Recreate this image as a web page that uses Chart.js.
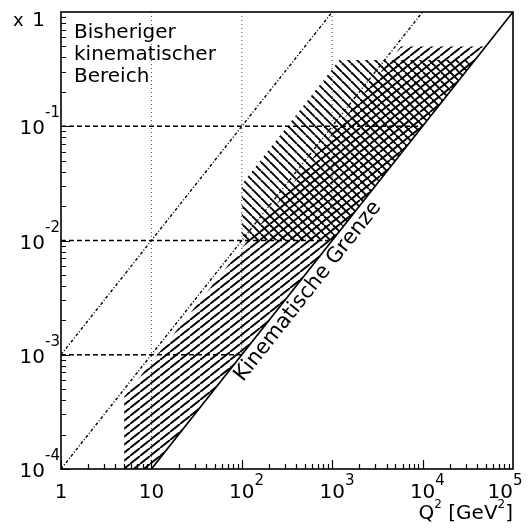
<!DOCTYPE html>
<html>
<head>
<meta charset="utf-8">
<script src="https://cdn.jsdelivr.net/npm/chart.js@4.4.1/dist/chart.umd.min.js"></script>
<style>
  html, body { margin: 0; padding: 0; background: #fff; }
  #chart { display: block; }
</style>
</head>
<body>
<canvas id="chart" width="532" height="528"></canvas>
<script>
// kinematische Ebene: Q2 (x-Achse) gegen Bjorken-x (y-Achse)
const grenzeQ2 = [10, 1e5];
const grenzeX  = [1e-4, 1];
const linie1Q2 = [1, 1e3];
const linie1X  = [1e-3, 1];
const linie2Q2 = [1, 1e4];
const linie2X  = [1e-4, 1];

// Hilfslinien: waagerecht bei x = 0.1 / 0.01 / 0.001, senkrecht bei Q2 = 10 / 100 / 1000
const hLinienX    = [0.1, 0.01, 0.001];
const hLinienBisQ2 = [1e4, 1e3, 1e2];
const vLinienQ2   = [10, 100, 1000];
const vLinienBisX = [1e-4, 1e-3, 1e-2];

// schraffierte Bereiche
const bereichAQ2 = [5, 5, 5750, 5e4, 10, 5];
const bereichAX  = [1e-4, 4.3e-4, 0.5, 0.5, 1e-4, 1e-4];
const bereichBQ2 = [100, 100, 1200, 3.8e4, 1000, 100];
const bereichBX  = [0.01, 0.031, 0.38, 0.38, 0.01, 0.01];

// Achsenbeschriftung
const q2TickWerte = [1, 10, 100, 1e3, 1e4, 1e5];
const q2TickBasis = ['1', '10', '10', '10', '10', '10'];
const q2TickExp   = ['', '', '2', '3', '4', '5'];
const xTickWerte  = [1e-4, 1e-3, 1e-2, 1e-1, 1];
const xTickBasis  = ['10', '10', '10', '10', '1'];
const xTickExp    = ['-4', '-3', '-2', '-1', ''];

const canvas = document.getElementById('chart');
const mainCtx = canvas.getContext('2d');

function punkte(q2, x) {
  return q2.map((v, i) => ({ x: v, y: x[i] }));
}

function schraffur(w, h, richtung) {
  const c = document.createElement('canvas');
  c.width = w; c.height = h;
  const g = c.getContext('2d');
  g.strokeStyle = '#000';
  g.lineWidth = 1.9;
  for (const dx of [-w, 0, w]) {
    g.beginPath();
    if (richtung === '/') { g.moveTo(dx, h); g.lineTo(dx + w, 0); }
    else { g.moveTo(dx, 0); g.lineTo(dx + w, h); }
    g.stroke();
  }
  return mainCtx.createPattern(c, 'repeat');
}

const linie = (data, extra) => Object.assign({
  data, showLine: true, pointRadius: 0, borderColor: '#000',
  borderWidth: 1.3, fill: false, tension: 0, order: 1
}, extra);

const datasets = [
  linie(punkte(grenzeQ2, grenzeX), { borderWidth: 1.7 }),
  linie(punkte(linie1Q2, linie1X), { borderWidth: 1.4, borderDash: [3, 2, 1, 2] }),
  linie(punkte(linie2Q2, linie2X), { borderWidth: 1.4, borderDash: [3, 2, 1, 2] })
];
hLinienX.forEach((xv, i) => {
  datasets.push(linie([{ x: 1, y: xv }, { x: hLinienBisQ2[i], y: xv }], { borderWidth: 1.4, borderDash: [5, 3] }));
});
vLinienQ2.forEach((q, i) => {
  datasets.push(linie([{ x: q, y: 1 }, { x: q, y: vLinienBisX[i] }], { borderWidth: 1, borderColor: '#444', borderDash: [1, 3] }));
});
datasets.push({
  data: punkte(bereichAQ2, bereichAX), showLine: true, pointRadius: 0, borderWidth: 0,
  borderColor: 'rgba(0,0,0,0)', backgroundColor: schraffur(10, 8, '/'), fill: 'shape', tension: 0, order: 10
});
datasets.push({
  data: punkte(bereichBQ2, bereichBX), showLine: true, pointRadius: 0, borderWidth: 0,
  borderColor: 'rgba(0,0,0,0)', backgroundColor: schraffur(9, 9, '\\'), fill: 'shape', tension: 0, order: 9
});

const rahmen = {
  id: 'rahmen',
  afterDraw(chart) {
    const { ctx, chartArea: a, scales: { x, y } } = chart;
    ctx.save();
    ctx.strokeStyle = '#000';
    ctx.lineWidth = 1.6;
    ctx.strokeRect(a.left, a.top, a.right - a.left, a.bottom - a.top);

    // Teilstriche nach innen
    ctx.lineWidth = 1.2;
    ctx.beginPath();
    for (let e = 0; e < 5; e++) {
      for (let m = 1; m < 10; m++) {
        const px = Math.round(x.getPixelForValue(m * Math.pow(10, e))) + 0.5;
        const len = m === 1 ? 9 : 5;
        ctx.moveTo(px, a.bottom); ctx.lineTo(px, a.bottom - len);
      }
    }
    for (let e = -4; e < 0; e++) {
      for (let m = 1; m < 10; m++) {
        const py = Math.round(y.getPixelForValue(m * Math.pow(10, e))) + 0.5;
        const len = m === 1 ? 9 : 5;
        ctx.moveTo(a.left, py); ctx.lineTo(a.left + len, py);
      }
    }
    ctx.stroke();

    ctx.fillStyle = '#000';
    const basisFont = '20px "DejaVu Sans"';
    const expFont = '15px "DejaVu Sans"';

    // Q2-Achse
    ctx.textAlign = 'left';
    ctx.textBaseline = 'alphabetic';
    q2TickWerte.forEach((v, i) => {
      const px = x.getPixelForValue(v);
      ctx.font = basisFont;
      const w = ctx.measureText(q2TickBasis[i]).width;
      ctx.font = expFont;
      const we = q2TickExp[i] ? ctx.measureText(q2TickExp[i]).width : 0;
      let links = px - w / 2;
      if (links + w + we > chart.width - 1) links = px - w;
      ctx.font = basisFont;
      ctx.fillText(q2TickBasis[i], links, a.bottom + 29);
      if (q2TickExp[i]) {
        ctx.font = expFont;
        ctx.fillText(q2TickExp[i], links + w, a.bottom + 16);
      }
    });

    // x-Achse
    xTickWerte.forEach((v, i) => {
      const py = y.getPixelForValue(v);
      if (xTickExp[i]) {
        ctx.font = expFont;
        const we = ctx.measureText(xTickExp[i]).width;
        const supLinks = a.left - 1 - we;
        ctx.fillText(xTickExp[i], supLinks, py - 9);
        ctx.font = basisFont;
        const w = ctx.measureText(xTickBasis[i]).width;
        ctx.fillText(xTickBasis[i], supLinks - w, py + 8);
      } else {
        ctx.font = basisFont;
        const w = ctx.measureText(xTickBasis[i]).width;
        ctx.fillText(xTickBasis[i], a.left - 16 - w, py + 14);
      }
    });
    ctx.font = '18px "DejaVu Sans"';
    ctx.fillText('x', 13, 26);

    // Achsentitel Q2 [GeV2]
    const teile = [['Q', basisFont, 0], ['2', '12px "DejaVu Sans"', -11], [' [GeV', basisFont, 0],
                   ['2', '12px "DejaVu Sans"', -11], [']', basisFont, 0]];
    let gesamt = 0;
    teile.forEach(t => { ctx.font = t[1]; gesamt += ctx.measureText(t[0]).width; });
    let tx = a.right - gesamt;
    teile.forEach(t => {
      ctx.font = t[1];
      ctx.fillText(t[0], tx, 519 + t[2]);
      tx += ctx.measureText(t[0]).width;
    });

    // Bereichstext
    ctx.font = basisFont;
    ctx.fillText('Bisheriger', a.left + 13, 38);
    ctx.fillText('kinematischer', a.left + 13, 60);
    ctx.fillText('Bereich', a.left + 13, 82);

    // Beschriftung der kinematischen Grenze
    const p0x = x.getPixelForValue(grenzeQ2[0]), p0y = y.getPixelForValue(grenzeX[0]);
    const p1x = x.getPixelForValue(grenzeQ2[1]), p1y = y.getPixelForValue(grenzeX[1]);
    const winkel = Math.atan2(p1y - p0y, p1x - p0x);
    const fx = x.getPixelForValue(72), fy = y.getPixelForValue(72 / 1e5);
    ctx.translate(fx, fy);
    ctx.rotate(winkel);
    ctx.font = '21px "DejaVu Sans"';
    ctx.fillText('Kinematische Grenze', 0, 18);
    ctx.restore();
  }
};

new Chart(canvas, {
  type: 'scatter',
  data: { datasets },
  options: {
    responsive: false,
    animation: false,
    events: [],
    devicePixelRatio: 1,
    layout: { padding: { left: 61, top: 12, right: 19, bottom: 59 } },
    plugins: { legend: { display: false }, tooltip: { enabled: false } },
    scales: {
      x: { type: 'logarithmic', min: 1, max: 1e5, display: false },
      y: { type: 'logarithmic', min: 1e-4, max: 1, display: false }
    }
  },
  plugins: [rahmen]
});
</script>
</body>
</html>
